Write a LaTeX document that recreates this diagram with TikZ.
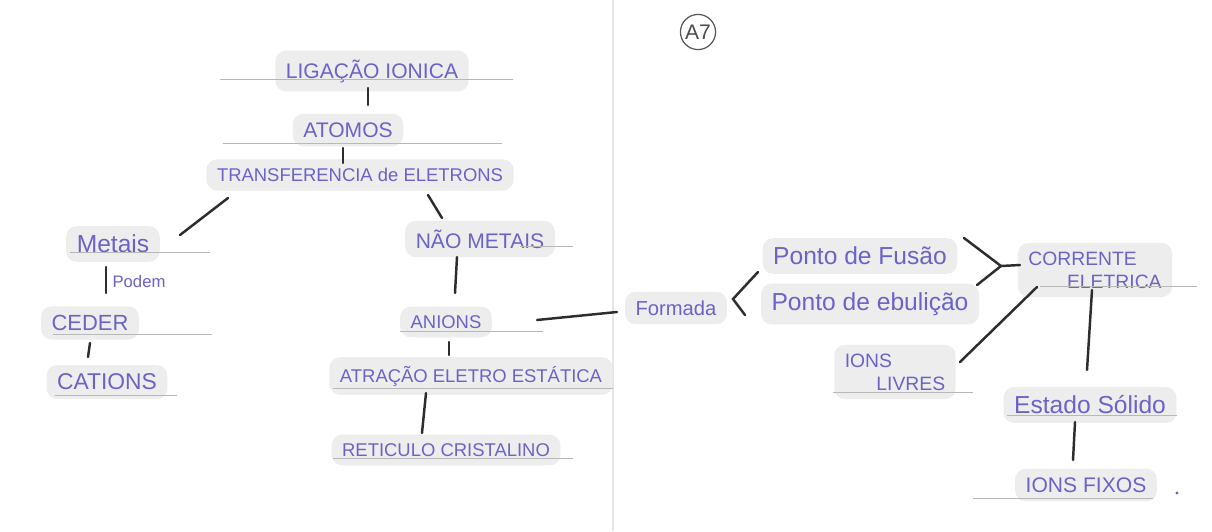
\documentclass[tikz,border=0pt]{standalone}
\usepackage{fontspec}
\setmainfont{Liberation Sans}
\usepackage{tikz}
\definecolor{tinta}{RGB}{108,98,200}
\definecolor{grafite}{RGB}{45,45,45}
\tikzset{
	% Concept labels (with the pencil shading behind them) and the strokes of the map
	conceito/.style={text=tinta,fill=black!7,rounded corners=6pt,inner xsep=6pt,inner ysep=5pt,align=left,font=\fontsize{#1}{13}\selectfont},
	conceito/.default=10.5,
	traco/.style={draw=grafite,line width=1.4pt,line cap=round},
	pauta/.style={draw=black!28,line width=0.5pt}
}

\begin{document}
\begin{tikzpicture}[x=0.02cm,y=-0.02cm]
	% macro for a stroke: node, shift, node, shift
	\newcommand{\liga}[4]{\draw[traco]([shift={#2}]#1.center)--([shift={#4}]#3.center);}
	% macro for the pencil rule under a label
	\newcommand{\pauta}[3]{\draw[pauta](#1,#3)--(#2,#3);}
	\useasboundingbox (0,0) rectangle (1212,531);
	\fill[white] (0,0) rectangle (1212,531);
	% fold of the sheet
	\draw[black!10,line width=0.6pt] (613,0) -- (613,531);

	% left page
	\node(lig)[conceito=12] at (372,71){LIGAÇÃO IONICA};
	\node(atomos)[conceito=12] at (348,130){ATOMOS};
	\node(transf)[conceito] at (360,175){TRANSFERENCIA de ELETRONS};
	\node(metais)[conceito=14] at (113,244){Metais};
	\node(podem)[text=tinta,font=\fontsize{9.5}{9.5}\selectfont] at (139,282){Podem};
	\node(ceder)[conceito=12.5] at (90,323){CEDER};
	\node(cations)[conceito=13] at (107,382){CATIONS};
	\node(naomet)[conceito=12] at (480,239){NÃO METAIS};
	\node(anions)[conceito] at (446,322){ANIONS};
	\node(atracao)[conceito] at (471,376){ATRAÇÃO ELETRO ESTÁTICA};
	\node(reticulo)[conceito] at (446,450){RETICULO CRISTALINO};

	% right page
	\node(formada)[conceito=11.5] at (676,308){Formada};
	\node(fusao)[conceito=14] at (860,256){Ponto de Fusão};
	\node(ebulicao)[conceito=14] at (870,304){Ponto de ebulição};
	\node(livres)[conceito=11] at (895,372){IONS\\\hspace*{18pt}LIVRES};
	\node(corrente)[conceito=11] at (1095,270){CORRENTE\\\hspace*{22pt}ELETRICA};
	\node(estado)[conceito=14] at (1090,405){Estado Sólido};
	\node(fixos)[conceito=12] at (1086,485){IONS FIXOS};
	\node(folha)[circle,draw=black!65,line width=0.7pt,inner sep=1pt,minimum size=20pt,text=black!70,font=\fontsize{12}{12}\selectfont] at (698,32){A7};
	\fill[tinta] (1177,493) circle (1.6);

	% pencil rules
	\pauta{220}{513}{79}
	\pauta{223}{502}{143}
	\pauta{70}{210}{252}
	\pauta{53}{212}{334}
	\pauta{55}{177}{395}
	\pauta{520}{573}{246}
	\pauta{400}{543}{331}
	\pauta{333}{613}{388}
	\pauta{333}{573}{458}
	\pauta{1040}{1197}{286}
	\pauta{833}{973}{392}
	\pauta{1007}{1177}{415}
	\pauta{973}{1153}{498}

	% strokes between the concepts
	\liga{lig}{(-4,17)}{atomos}{(20,-25)}
	\liga{atomos}{(-5,18)}{transf}{(-17,-12)}
	\liga{transf}{(-132,23)}{metais}{(67,-9)}
	\liga{transf}{(68,20)}{naomet}{(-38,-21)}
	\liga{metais}{(-7,23)}{ceder}{(16,-30)}
	\liga{ceder}{(0,20)}{cations}{(-19,-25)}
	\liga{naomet}{(-23,18)}{anions}{(9,-29)}
	\liga{anions}{(3,20)}{atracao}{(-22,-21)}
	\liga{atracao}{(-45,17)}{reticulo}{(-24,-17)}
	\liga{anions}{(91,-2)}{formada}{(-59,4)}
	\draw[traco] ([shift={(-102,16)}]fusao.center) -- ([shift={(57,-9)}]formada.center) -- ([shift={(-125,11)}]ebulicao.center);
	\coordinate (juncao) at ([shift={(-94,-4)}]corrente.center);
	\draw[traco] ([shift={(104,-18)}]fusao.center) -- (juncao) -- ([shift={(107,-19)}]ebulicao.center);
	\draw[traco] (juncao) -- ([shift={(-75,-5)}]corrente.center);
	\liga{livres}{(65,-10)}{corrente}{(-58,17)}
	\liga{corrente}{(-3,20)}{estado}{(-3,-35)}
	\liga{estado}{(-15,17)}{fixos}{(-13,-25)}
\end{tikzpicture}
\end{document}
